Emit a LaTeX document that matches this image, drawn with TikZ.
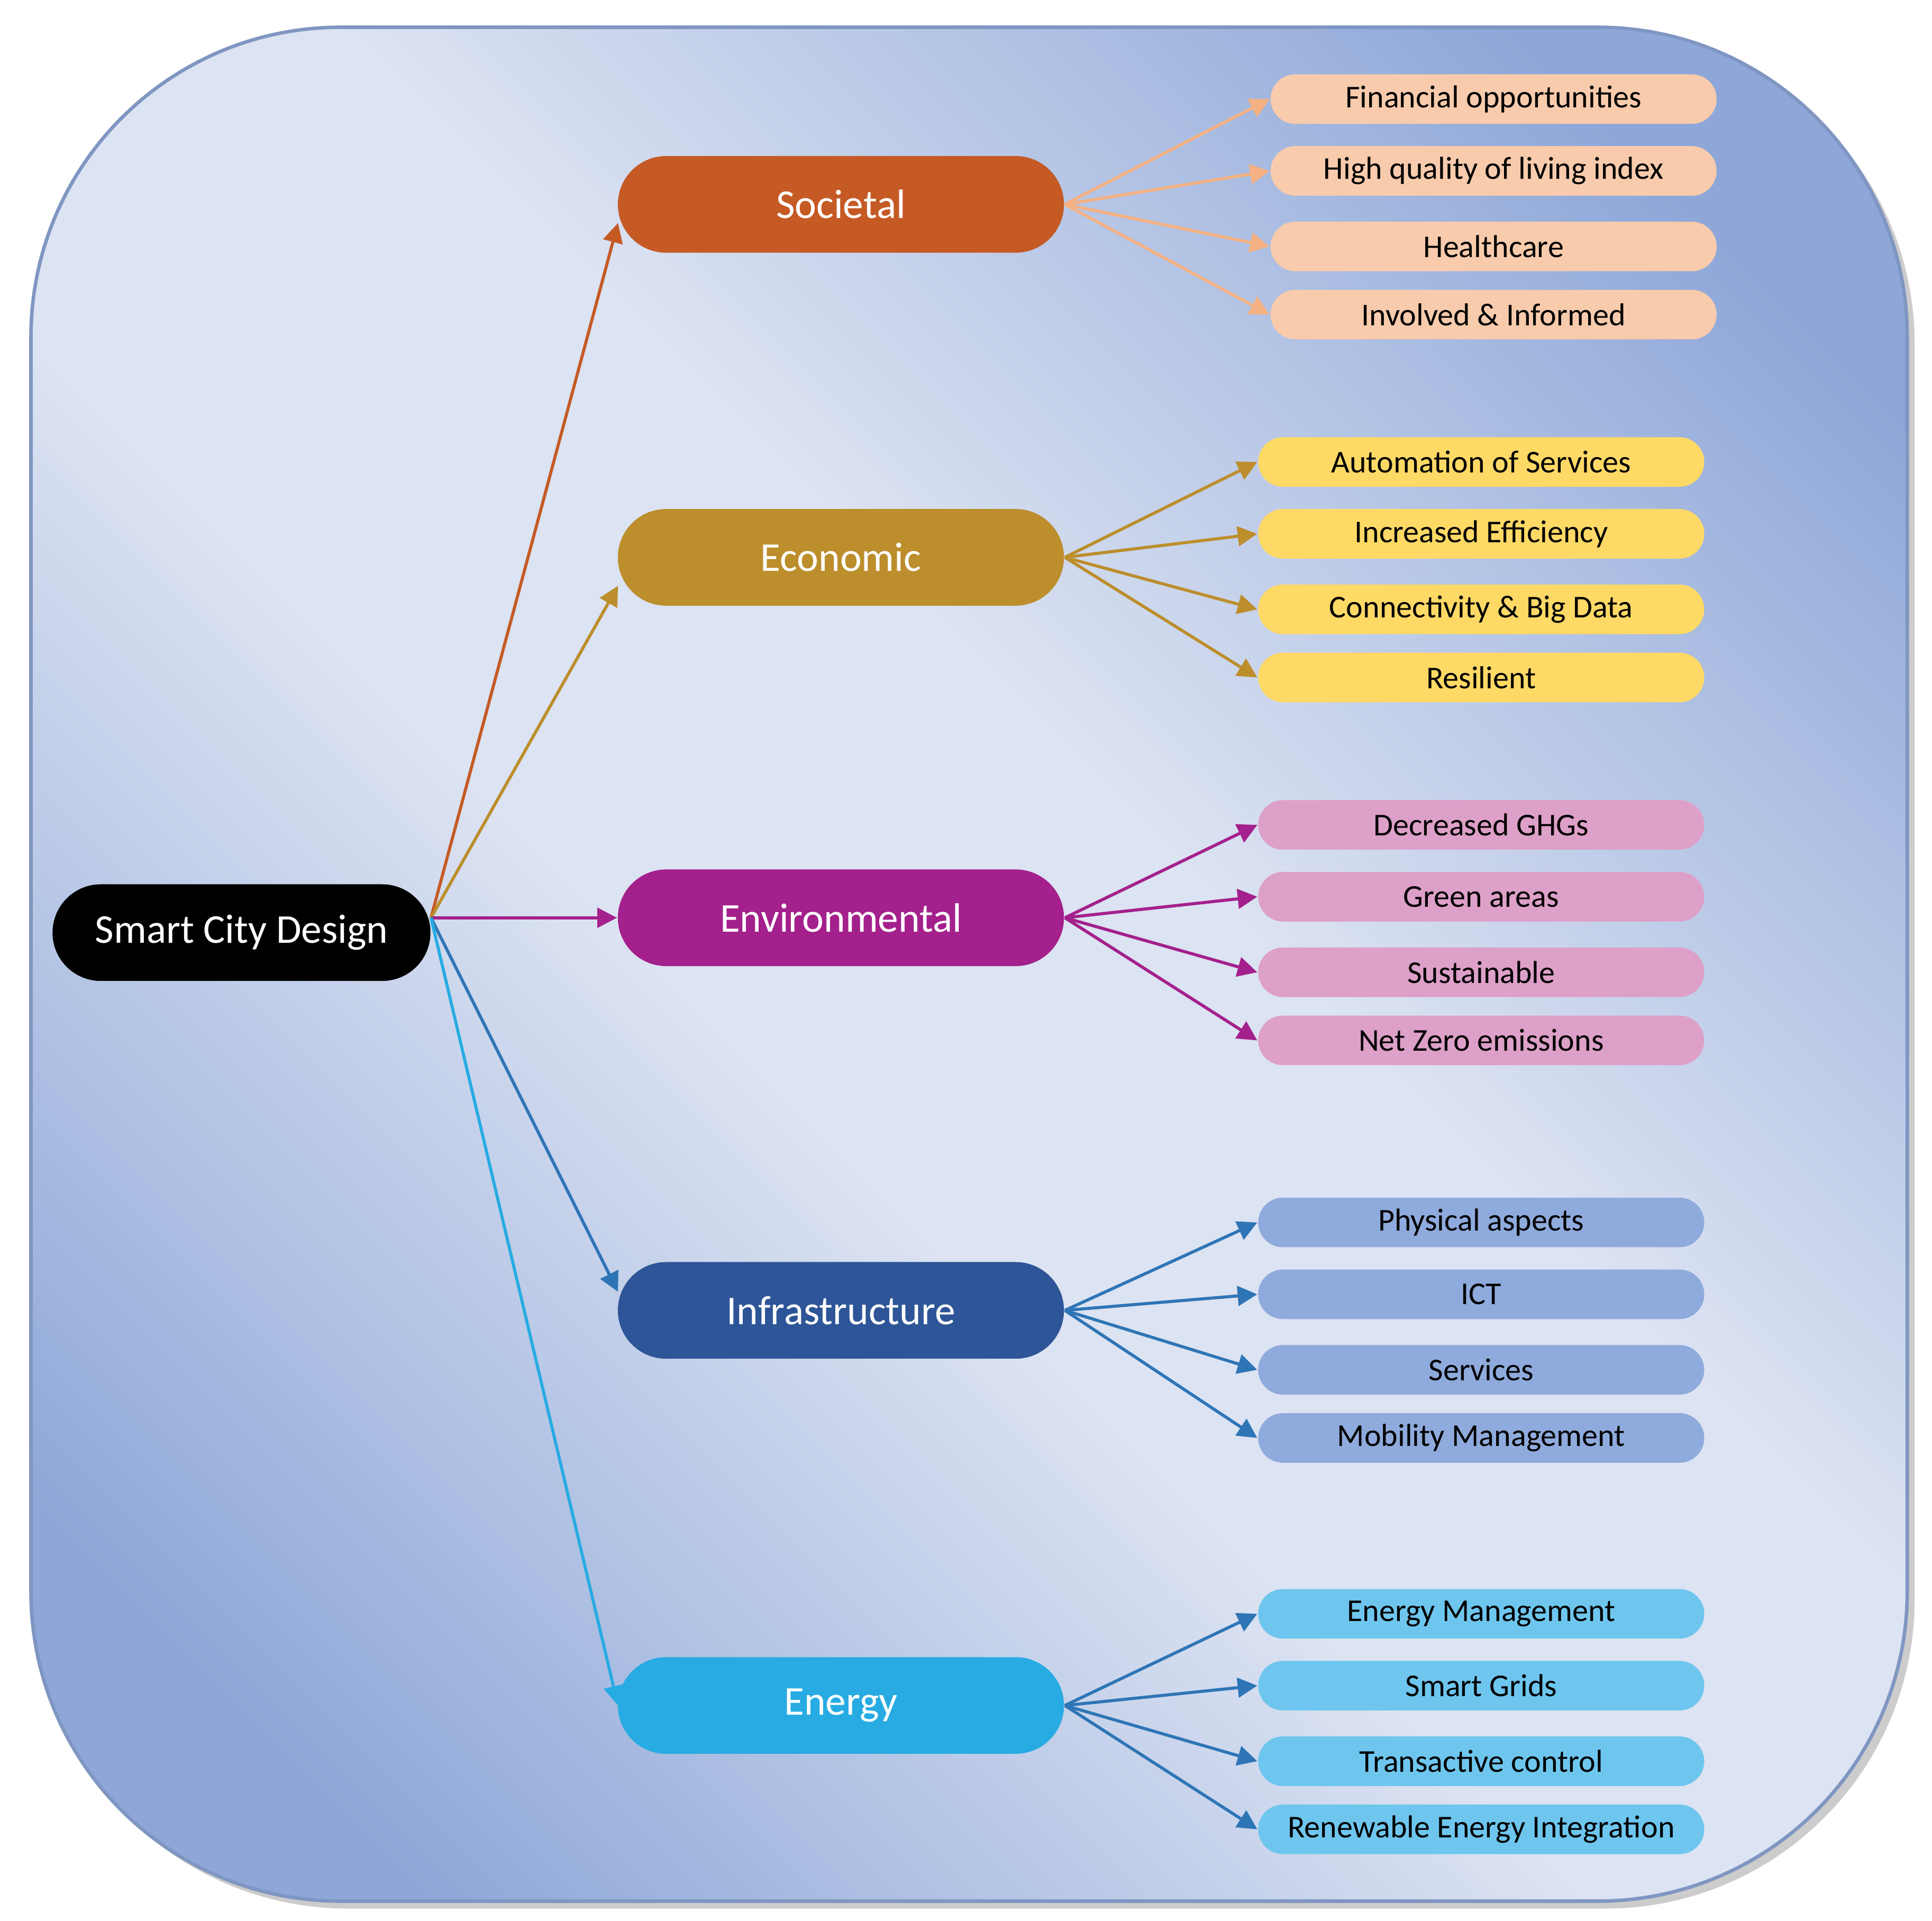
\documentclass[tikz,border=0pt]{standalone}
\usepackage{fontspec}
\setmainfont{Carlito}
\usetikzlibrary{arrows.meta}
\definecolor{bgdark}{HTML}{8EA7D8}
\definecolor{bglight}{HTML}{DCE3F2}
\definecolor{cSoc}{HTML}{C55A25}\definecolor{lSoc}{HTML}{F8CBAD}\definecolor{aSoc}{HTML}{F4B183}
\definecolor{cEco}{HTML}{BC8E2C}\definecolor{lEco}{HTML}{FFD966}
\definecolor{cEnv}{HTML}{A4208C}\definecolor{lEnv}{HTML}{DDA0C8}
\definecolor{cInf}{HTML}{2D5597}\definecolor{lInf}{HTML}{8FAADC}\definecolor{aInf}{HTML}{2E75B6}
\definecolor{cEne}{HTML}{27ABE2}\definecolor{lEne}{HTML}{6EC6EE}
\pgfdeclarehorizontalshading{bgsh}{100bp}{color(0bp)=(bgdark); color(22bp)=(bgdark); color(44bp)=(bglight); color(56bp)=(bglight); color(78bp)=(bgdark); color(100bp)=(bgdark)}
\tikzset{
 cat/.style={rectangle,rounded corners=39*0.01cm,minimum width=3.6cm,minimum height=0.78cm,text=white,font=\fontsize{9.4pt}{10pt}\selectfont,inner sep=0},
 leaf/.style={rectangle,rounded corners=20*0.01cm,minimum width=3.6cm,minimum height=0.4cm,text=black,font=\fontsize{7.3pt}{8pt}\selectfont,inner sep=0},
 arr/.style={line width=0.7pt,-{Triangle[length=4.5pt,width=4.5pt]}},
}
\begin{document}
\begin{tikzpicture}[x=0.01cm,y=-0.01cm]
\useasboundingbox (0,0) rectangle (1560,1551);
\fill[gray!40,rounded corners=250*0.01cm] (31,28) rectangle (1546,1541);
\shade[rounded corners=250*0.01cm,shading=bgsh,shading angle=45,draw=bgdark!90!black,line width=0.8pt] (25,22) rectangle (1540,1535);
\node[cat,fill=black,minimum width=3.05cm] (root) at (195,753) {Smart City Design};
\node[cat,fill=cSoc] (soc) at (679,165) {Societal};
\node[cat,fill=cEco] (eco) at (679,450) {Economic};
\node[cat,fill=cEnv] (env) at (679,741) {Environmental};
\node[cat,fill=cInf] (inf) at (679,1058) {Infrastructure};
\node[cat,fill=cEne] (ene) at (679,1377) {Energy};
\coordinate (r) at (348,741);
\draw[arr,cSoc] (r) -- (499,180);
\draw[arr,cEco] (r) -- (499,473);
\draw[arr,cEnv] (r) -- (env.west);
\draw[arr,aInf] (r) -- (499,1043);
\draw[arr,cEne] (r) -- (499,1377);
% Societal
\node[leaf,fill=lSoc] (s1) at (1206,80) {Financial opportunities};
\node[leaf,fill=lSoc] (s2) at (1206,138) {High quality of living index};
\node[leaf,fill=lSoc] (s3) at (1206,199) {Healthcare};
\node[leaf,fill=lSoc] (s4) at (1206,254) {Involved \& Informed};
\foreach \n in {s1,s2,s3,s4} \draw[arr,aSoc] (soc.east) -- (\n.west);
% Economic
\node[leaf,fill=lEco] (e1) at (1196,373) {Automation of Services};
\node[leaf,fill=lEco] (e2) at (1196,431) {Increased Efficiency};
\node[leaf,fill=lEco] (e3) at (1196,492) {Connectivity \& Big Data};
\node[leaf,fill=lEco] (e4) at (1196,547) {Resilient};
\foreach \n in {e1,e2,e3,e4} \draw[arr,cEco] (eco.east) -- (\n.west);
% Environmental
\node[leaf,fill=lEnv] (v1) at (1196,666) {Decreased GHGs};
\node[leaf,fill=lEnv] (v2) at (1196,724) {Green areas};
\node[leaf,fill=lEnv] (v3) at (1196,785) {Sustainable};
\node[leaf,fill=lEnv] (v4) at (1196,840) {Net Zero emissions};
\foreach \n in {v1,v2,v3,v4} \draw[arr,cEnv] (env.east) -- (\n.west);
% Infrastructure
\node[leaf,fill=lInf] (i1) at (1196,987) {Physical aspects};
\node[leaf,fill=lInf] (i2) at (1196,1045) {ICT};
\node[leaf,fill=lInf] (i3) at (1196,1106) {Services};
\node[leaf,fill=lInf] (i4) at (1196,1161) {Mobility Management};
\foreach \n in {i1,i2,i3,i4} \draw[arr,aInf] (inf.east) -- (\n.west);
% Energy
\node[leaf,fill=lEne] (n1) at (1196,1303) {Energy Management};
\node[leaf,fill=lEne] (n2) at (1196,1361) {Smart Grids};
\node[leaf,fill=lEne] (n3) at (1196,1422) {Transactive control};
\node[leaf,fill=lEne] (n4) at (1196,1477) {Renewable Energy Integration};
\foreach \n in {n1,n2,n3,n4} \draw[arr,aInf] (ene.east) -- (\n.west);
\end{tikzpicture}
\end{document}
